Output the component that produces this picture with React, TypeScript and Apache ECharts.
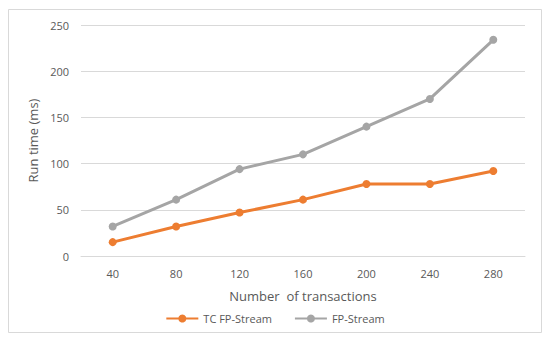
import React, { useEffect, useRef } from "react";
import * as echarts from "echarts";

const categories = ["40", "80", "120", "160", "200", "240", "280"];
const tcFpStream = [15, 32, 47, 61, 78, 78, 92];
const fpStream = [32, 61, 94, 110, 140, 170, 234];
const seriesNames = ["TC FP-Stream", "FP-Stream"];

const FONT = "'Open Sans', 'Liberation Sans', sans-serif";

export default function App() {
  const ref = useRef<HTMLDivElement>(null);
  useEffect(() => {
    const chart = echarts.init(ref.current!, null, { renderer: "svg" });
    chart.setOption({
      animation: false,
      backgroundColor: "#ffffff",
      textStyle: { fontFamily: FONT },
      graphic: [
        {
          type: "rect",
          shape: { x: 8.5, y: 9.5, width: 533, height: 323 },
          style: { fill: "none", stroke: "#d9d9d9", lineWidth: 1 },
          silent: true,
        },
      ],
      grid: { left: 81, right: 25, top: 25, bottom: 83, containLabel: false },
      legend: {
        bottom: 10,
        left: "center",
        itemWidth: 32,
        itemHeight: 10,
        itemGap: 22,
        textStyle: { color: "#595959", fontSize: 11, fontFamily: FONT },
        data: seriesNames,
      },
      xAxis: {
        type: "category",
        data: categories,
        boundaryGap: true,
        name: "Number  of transactions",
        nameLocation: "middle",
        nameGap: 33,
        nameTextStyle: { color: "#595959", fontSize: 13, fontFamily: FONT },
        axisLine: { show: true, lineStyle: { color: "#d9d9d9" } },
        axisTick: { show: false },
        axisLabel: { color: "#595959", fontSize: 11, margin: 12, fontFamily: FONT },
      },
      yAxis: {
        type: "value",
        min: 0,
        max: 250,
        interval: 50,
        name: "Run time (ms)",
        nameLocation: "middle",
        nameGap: 42,
        nameRotate: 90,
        nameTextStyle: { color: "#595959", fontSize: 13, fontFamily: FONT },
        axisLine: { show: false },
        axisTick: { show: false },
        axisLabel: { color: "#595959", fontSize: 11, margin: 12, fontFamily: FONT },
        splitLine: { lineStyle: { color: "#d9d9d9", width: 1 } },
      },
      series: [
        {
          name: seriesNames[0],
          type: "line",
          data: tcFpStream,
          symbol: "circle",
          symbolSize: 8,
          itemStyle: { color: "#ED7D31" },
          lineStyle: { color: "#ED7D31", width: 3 },
        },
        {
          name: seriesNames[1],
          type: "line",
          data: fpStream,
          symbol: "circle",
          symbolSize: 8,
          itemStyle: { color: "#A5A5A5" },
          lineStyle: { color: "#A5A5A5", width: 3 },
        },
      ],
    });
    return () => chart.dispose();
  }, []);
  return (
    <div
      ref={ref}
      style={{ position: "fixed", left: 0, top: 0, width: 550, height: 339 }}
    />
  );
}
